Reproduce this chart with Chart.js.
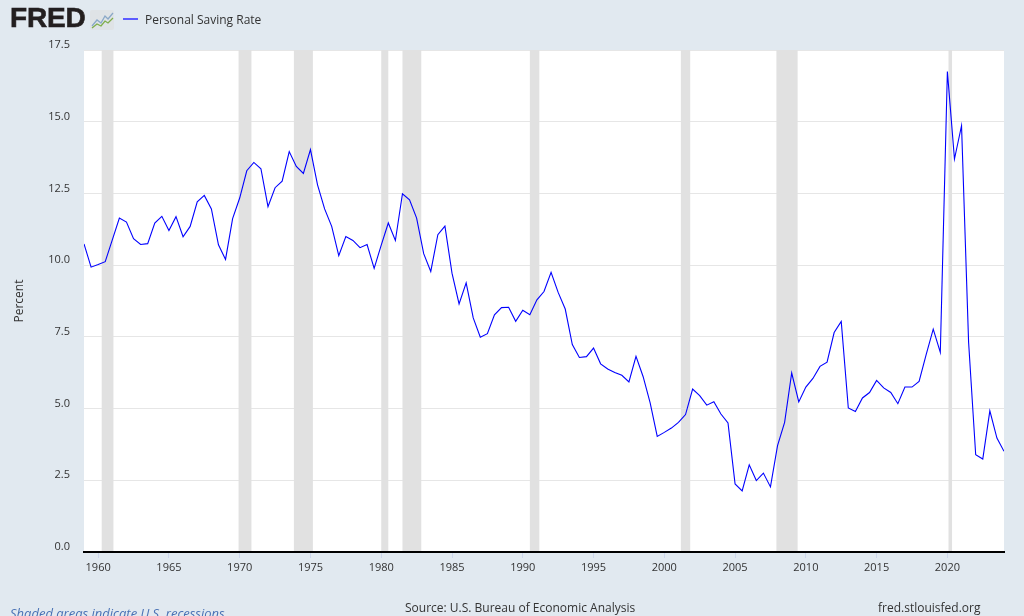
<!DOCTYPE html>
<html>
<head>
<meta charset="utf-8">
<script src="https://cdn.jsdelivr.net/npm/chart.js@4/dist/chart.umd.min.js"></script>
<style>
  html, body { margin: 0; padding: 0; background: #e1e9f0; overflow: hidden; }
  #wrap { position: relative; width: 1024px; height: 616px; background: #e1e9f0; }
  canvas { position: absolute; left: 0; top: 0; }
  .txt { position: absolute; font-family: "Open Sans", sans-serif; color: #333; white-space: nowrap; }
  #logo { position: absolute; left: 10px; top: 2px; font-family: "Liberation Sans", Arial, sans-serif; font-weight: 900; font-size: 28px; color: #231f20; letter-spacing: -0.2px; -webkit-text-stroke: 0.6px #231f20; }
  #icon { position: absolute; left: 90px; top: 10px; width: 24px; height: 20px; background: #dfe3e6; border-radius: 2px; }
  #legline { position: absolute; left: 123px; top: 18px; width: 15px; height: 2px; background: #5c5cff; }
</style>
</head>
<body>
<div id="wrap">
  <canvas id="c" width="1024" height="616"></canvas>
  <div id="logo">FRED</div>
  <div id="icon"><svg width="24" height="20" viewBox="0 0 24 20"><polyline points="2,16 7,10 11,13 15,6 18,9 23,3" fill="none" stroke="#8aa8c8" stroke-width="1.3"/><polyline points="2,18 7,14 11,16 15,11 18,13 23,8" fill="none" stroke="#7fae4b" stroke-width="1.3"/></svg></div>
  <div id="legline"></div>
  <div class="txt" style="left:145px; top:11px; font-size:12px;">Personal Saving Rate</div>
  <div class="txt" style="left:405px; top:599px; font-size:12px;">Source: U.S. Bureau of Economic Analysis</div>
  <div class="txt" style="left:878px; top:599px; font-size:12px;">fred.stlouisfed.org</div>
  <div class="txt" style="left:10px; top:604px; font-size:13px; font-style:italic; color:#4a72b5;">Shaded areas indicate U.S. recessions</div>
</div>
<script>
// Semi-annual observations, first at 1959 (Jan), step half a year
const startYear = 1959;
const periodStep = 0.5;
const savingRate = [
  10.74, 9.93, 10.02, 10.12, 10.88, 11.64, 11.50, 10.92, 10.72, 10.75,
  11.47, 11.70, 11.21, 11.69, 10.99, 11.35, 12.21, 12.43, 11.96, 10.71,
  10.20, 11.62, 12.34, 13.29, 13.58, 13.36, 12.04, 12.70, 12.93, 13.96,
  13.44, 13.20, 14.03, 12.80, 11.96, 11.35, 10.33, 11.00, 10.86, 10.61,
  10.72, 9.89, 10.70, 11.47, 10.86, 12.49, 12.28, 11.64, 10.40, 9.78,
  11.06, 11.36, 9.72, 8.65, 9.38, 8.16, 7.49, 7.61, 8.27, 8.52,
  8.53, 8.04, 8.43, 8.27, 8.79, 9.08, 9.75, 9.05, 8.47, 7.23,
  6.78, 6.81, 7.11, 6.56, 6.38, 6.26, 6.16, 5.93, 6.82, 6.12,
  5.20, 4.03, 4.17, 4.32, 4.52, 4.79, 5.68, 5.45, 5.12, 5.24,
  4.81, 4.50, 2.37, 2.13, 3.04, 2.49, 2.75, 2.27, 3.71, 4.52,
  6.24, 5.23, 5.75, 6.05, 6.47, 6.62, 7.65, 8.04, 5.02, 4.90,
  5.37, 5.56, 5.98, 5.72, 5.56, 5.17, 5.75, 5.75, 5.95, 6.88,
  7.77, 6.96, 16.75, 13.70, 14.86, 7.30, 3.39, 3.24, 4.92, 3.97,
  3.51
];
const periods = savingRate.map((_, i) => startYear + i * periodStep);

// U.S. recessions (decimal years)
const recessionStart = [1960.25, 1969.92, 1973.83, 1980.0, 1981.5, 1990.5, 2001.17, 2007.92, 2020.08];
const recessionEnd   = [1961.08, 1970.83, 1975.17, 1980.5, 1982.83, 1991.17, 2001.83, 2009.42, 2020.33];

const xTickYears = [1960, 1965, 1970, 1975, 1980, 1985, 1990, 1995, 2000, 2005, 2010, 2015, 2020];
const yTicks = [0, 2.5, 5, 7.5, 10, 12.5, 15, 17.5];

const recessionPlugin = {
  id: 'recessions',
  beforeDatasetsDraw(chart) {
    const { ctx, chartArea, scales } = chart;
    ctx.save();
    ctx.fillStyle = '#e1e1e1';
    for (let i = 0; i < recessionStart.length; i++) {
      const x1 = scales.x.getPixelForValue(recessionStart[i]);
      const x2 = scales.x.getPixelForValue(recessionEnd[i]);
      ctx.fillRect(x1, chartArea.top, x2 - x1, chartArea.bottom - chartArea.top - 1);
    }
    ctx.restore();
  }
};

const bgPlugin = {
  id: 'plotbg',
  beforeDraw(chart) {
    const { ctx, chartArea } = chart;
    ctx.save();
    ctx.fillStyle = '#ffffff';
    ctx.fillRect(chartArea.left, chartArea.top, chartArea.right - chartArea.left, chartArea.bottom - chartArea.top);
    ctx.restore();
  }
};

Chart.defaults.font.family = '"Open Sans", sans-serif';
Chart.defaults.color = '#333333';

new Chart(document.getElementById('c'), {
  type: 'line',
  data: {
    datasets: [{
      label: 'Personal Saving Rate',
      data: periods.map((p, i) => ({ x: p, y: savingRate[i] })),
      borderColor: '#0000ff',
      borderWidth: 1.1,
      pointRadius: 0,
      tension: 0,
      fill: false
    }]
  },
  options: {
    responsive: false,
    animation: false,
    devicePixelRatio: 1,
    layout: { padding: { left: 0, right: 20, top: 50, bottom: 0 } },
    plugins: { legend: { display: false }, tooltip: { enabled: false } },
    scales: {
      x: {
        type: 'linear',
        min: 1959,
        max: 2024,
        afterBuildTicks(scale) { scale.ticks = xTickYears.map(v => ({ value: v })); },
        afterFit(scale) { scale.height = 64; },
        ticks: {
          font: { size: 11 },
          color: '#333',
          padding: 3,
          maxRotation: 0,
          autoSkip: false,
          callback: v => String(v)
        },
        grid: { drawOnChartArea: false, drawTicks: true, tickLength: 6, color: '#ccd6eb' },
        border: { display: true, color: '#000000', width: 2 }
      },
      y: {
        min: 0,
        max: 17.5,
        afterBuildTicks(scale) { scale.ticks = yTicks.map(v => ({ value: v })); },
        afterFit(scale) { scale.width = 84; },
        ticks: {
          font: { size: 11 },
          color: '#333',
          padding: 14,
          labelOffset: -5,
          callback: v => Number(v).toFixed(1)
        },
        grid: { color: '#e6e6e6', lineWidth: 1, drawTicks: false },
        border: { display: false },
        title: { display: true, text: 'Percent', font: { size: 12 }, color: '#333', padding: { top: 12, bottom: 0 } }
      }
    }
  },
  plugins: [bgPlugin, recessionPlugin]
});
</script>
</body>
</html>
